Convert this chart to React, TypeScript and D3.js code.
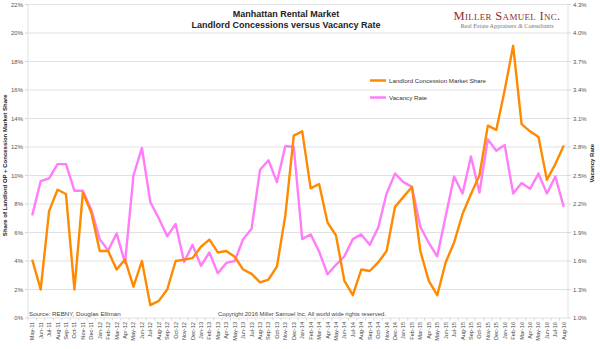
import React from "react";
import * as d3 from "d3";

const months = [
  "May-11","Jun-11","Jul-11","Aug-11","Sep-11","Oct-11","Nov-11","Dec-11",
  "Jan-12","Feb-12","Mar-12","Apr-12","May-12","Jun-12","Jul-12","Aug-12","Sep-12","Oct-12","Nov-12","Dec-12",
  "Jan-13","Feb-13","Mar-13","Apr-13","May-13","Jun-13","Jul-13","Aug-13","Sep-13","Oct-13","Nov-13","Dec-13",
  "Jan-14","Feb-14","Mar-14","Apr-14","May-14","Jun-14","Jul-14","Aug-14","Sep-14","Oct-14","Nov-14","Dec-14",
  "Jan-15","Feb-15","Mar-15","Apr-15","May-15","Jun-15","Jul-15","Aug-15","Sep-15","Oct-15","Nov-15","Dec-15",
  "Jan-16","Feb-16","Mar-16","Apr-16","May-16","Jun-16","Jul-16","Aug-16"
];

// Landlord concession market share (%), left axis
const concessionShare = [
  4.1, 2.0, 7.5, 9.0, 8.7, 2.0, 8.8, 7.4,
  4.7, 4.7, 3.4, 4.1, 2.2, 4.0, 0.9, 1.2, 2.0, 4.0, 4.1, 4.2,
  5.0, 5.5, 4.6, 4.7, 4.3, 3.4, 3.1, 2.5, 2.7, 3.6, 7.2, 12.8,
  13.1, 9.1, 9.4, 6.7, 5.8, 2.6, 1.6, 3.4, 3.3, 3.9, 4.7, 7.8,
  8.5, 9.2, 4.7, 2.6, 1.6, 3.9, 5.3, 7.3, 8.7, 10.0, 13.5, 13.2,
  16.0, 19.1, 13.6, 13.1, 12.7, 9.7, 10.8, 12.1
];

// Vacancy rate (%), right axis
const vacancyRate = [
  2.08, 2.44, 2.47, 2.62, 2.62, 2.34, 2.34, 2.14,
  1.83, 1.71, 1.89, 1.58, 2.50, 2.79, 2.22, 2.05, 1.86, 1.99, 1.59, 1.77,
  1.55, 1.69, 1.47, 1.58, 1.60, 1.83, 1.94, 2.56, 2.66, 2.43, 2.81, 2.80,
  1.83, 1.88, 1.70, 1.46, 1.56, 1.65, 1.83, 1.88, 1.77, 1.95, 2.31, 2.52,
  2.43, 2.38, 1.96, 1.79, 1.65, 2.07, 2.49, 2.31, 2.70, 2.32, 2.88, 2.76,
  2.82, 2.31, 2.42, 2.36, 2.52, 2.31, 2.49, 2.17
];

const leftTicks = [0, 2, 4, 6, 8, 10, 12, 14, 16, 18, 20, 22];
const rightTicks = [1.0, 1.3, 1.6, 1.9, 2.2, 2.5, 2.8, 3.1, 3.4, 3.7, 4.0, 4.3];

const FONT = "'Liberation Sans', Arial, sans-serif";
const SERIF = "'Liberation Serif', 'DejaVu Serif', serif";
const ORANGE = "#ff8a00";
const PINK = "#ff7dfa";

export default function App() {
  const W = 600, H = 349;
  const left = 28, right = 568, top = 4.5, bottom = 318;

  const x = d3.scaleBand<string>().domain(months).range([left, right]);
  const bw = x.bandwidth();
  const cx = (m: string) => (x(m) as number) + bw / 2;
  const yL = d3.scaleLinear().domain([0, 22]).range([bottom, top]);
  const yR = d3.scaleLinear().domain([1.0, 4.3]).range([bottom, top]);

  const lineL = d3.line<number>().x((_, i) => cx(months[i])).y((d) => yL(d));
  const lineR = d3.line<number>().x((_, i) => cx(months[i])).y((d) => yR(d));

  return (
    <svg width={W} height={H} style={{ position: "absolute", left: 0, top: 0, background: "#fff" }}>
      <rect x={0} y={0} width={W} height={H} fill="#fff" />
      {/* gridlines */}
      {leftTicks.map((t) => (
        <line key={"g" + t} x1={left} x2={right} y1={yL(t)} y2={yL(t)} stroke="#d9d9d9" strokeWidth={0.8} />
      ))}
      <line x1={left} x2={left} y1={top} y2={bottom} stroke="#d9d9d9" strokeWidth={0.8} />
      <line x1={right} x2={right} y1={top} y2={bottom} stroke="#d9d9d9" strokeWidth={0.8} />
      {/* axis ticks */}
      {leftTicks.map((t) => (
        <line key={"lt" + t} x1={left - 3} x2={left} y1={yL(t)} y2={yL(t)} stroke="#cfcfcf" strokeWidth={0.8} />
      ))}
      {rightTicks.map((t) => (
        <line key={"rt" + t} x1={right} x2={right + 3} y1={yR(t)} y2={yR(t)} stroke="#cfcfcf" strokeWidth={0.8} />
      ))}
      {months.map((m) => (
        <line key={"xt" + m} x1={x(m) as number} x2={x(m) as number} y1={bottom} y2={bottom + 2.5} stroke="#cfcfcf" strokeWidth={0.8} />
      ))}
      {/* tick labels */}
      {leftTicks.map((t) => (
        <text key={"ll" + t} x={left - 5} y={yL(t)} dy="0.35em" textAnchor="end" fontFamily={FONT} fontSize={6} fill="#555">
          {t + "%"}
        </text>
      ))}
      {rightTicks.map((t) => (
        <text key={"rl" + t} x={right + 5} y={yR(t)} dy="0.35em" textAnchor="start" fontFamily={FONT} fontSize={6} fill="#555">
          {t.toFixed(1) + "%"}
        </text>
      ))}
      {months.map((m) => (
        <text key={"xl" + m} transform={`translate(${cx(m) + 2},${bottom + 4}) rotate(-90)`} textAnchor="end" fontFamily={FONT} fontSize={5.6} fill="#444">
          {m}
        </text>
      ))}
      {/* axis titles */}
      <text transform={`translate(7,${(top + bottom) / 2 + 4}) rotate(-90)`} textAnchor="middle" fontFamily={FONT} fontSize={6} fontWeight="bold" fill="#222">
        Share of Landlord OP + Concession Market Share
      </text>
      <text transform={`translate(594,${(top + bottom) / 2 + 2}) rotate(-90)`} textAnchor="middle" fontFamily={FONT} fontSize={6} fontWeight="bold" fill="#222">
        Vacancy Rate
      </text>
      {/* title */}
      <text x={286} y={16.5} textAnchor="middle" fontFamily={FONT} fontSize={9} fontWeight="bold" fill="#222">
        Manhattan Rental Market
      </text>
      <text x={286} y={27.5} textAnchor="middle" fontFamily={FONT} fontSize={9} fontWeight="bold" fill="#222">
        Landlord Concessions versus Vacancy Rate
      </text>
      {/* logo */}
      <text x={507} y={19.5} textAnchor="middle" fontFamily={SERIF} fontSize={12.5} fill="#8c2f2f" style={{ fontVariant: "small-caps", letterSpacing: "0.3px" }}>
        Miller Samuel Inc.
      </text>
      <text x={507} y={27.5} textAnchor="middle" fontFamily={SERIF} fontSize={6.2} fill="#777">
        Real Estate Appraisers <tspan fontStyle="italic">&amp;</tspan> Consultants
      </text>
      {/* legend */}
      <line x1={370} x2={386} y1={80.5} y2={80.5} stroke={ORANGE} strokeWidth={2.5} />
      <text x={389} y={80.5} dy="0.35em" fontFamily={FONT} fontSize={6.2} fill="#333">
        Landlord Concession Market Share
      </text>
      <line x1={370} x2={386} y1={97.5} y2={97.5} stroke={PINK} strokeWidth={2.5} />
      <text x={389} y={97.5} dy="0.35em" fontFamily={FONT} fontSize={6.2} fill="#333">
        Vacancy Rate
      </text>
      {/* footer notes */}
      <text x={29} y={316} fontFamily={FONT} fontSize={6.2} fill="#444">
        Source: REBNY, Douglas Elliman
      </text>
      <text x={218} y={316} fontFamily={FONT} fontSize={5.9} fill="#444">
        Copyright 2016 Miller Samuel Inc.  All world wide rights reserved.
      </text>
      {/* series */}
      <path d={lineR(vacancyRate) || ""} fill="none" stroke={PINK} strokeWidth={2.4} strokeLinejoin="round" />
      <path d={lineL(concessionShare) || ""} fill="none" stroke={ORANGE} strokeWidth={2.4} strokeLinejoin="round" />
    </svg>
  );
}
